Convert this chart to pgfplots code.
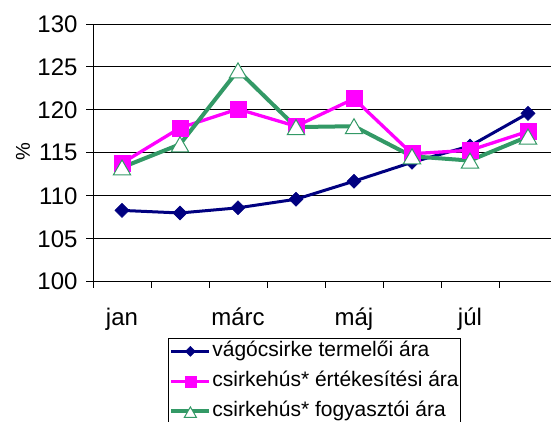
\documentclass[border=0pt]{standalone}
\usepackage{pgfplots}
\pgfplotsset{compat=1.18}
\usepackage{fontspec}
\setmainfont{Liberation Sans}
\definecolor{cnavy}{RGB}{0,0,128}
\definecolor{cmag}{RGB}{255,0,255}
\definecolor{cgreen}{RGB}{51,153,102}
\begin{document}
\begin{tikzpicture}[x=1pt,y=1pt]
\begin{axis}[
  at={(93pt,140.3pt)}, anchor=south west,
  scale only axis, width=464pt, height=257.7pt,
  xmin=0.5, xmax=8.5, ymin=100, ymax=130,
  ytick={100,105,...,130},
  xtick={1,3,5,7}, xticklabels={jan,márc,máj,júl},
  minor xtick={0.5,1.5,...,8.5},
  axis x line*=bottom, axis y line*=left,
  axis line style={black, line width=0.9pt},
  tick align=outside,
  major tick length=7pt, minor tick length=6pt,
  major x tick style={draw=none},
  minor x tick style={black, line width=0.9pt},
  major y tick style={black, line width=0.9pt},
  ymajorgrids, major grid style={black, line width=0.9pt},
  ticklabel style={font=\fontsize{24}{28}\selectfont},
  xticklabel style={yshift=-16pt},
  yticklabel style={xshift=-5pt},
  /pgf/number format/assume math mode=true,
  ylabel={\%},
  ylabel style={font=\fontsize{20}{24}\selectfont, at={(axis description cs:-0.151,0.503)}, anchor=center},
  legend style={at={(axis description cs:0.1616,-0.2185)}, anchor=north west, draw=black, line width=0.8pt,
    font=\fontsize{21}{25}\selectfont, inner xsep=1pt, inner ysep=2pt, row sep=8pt,
    nodes={inner sep=1pt, text height=15pt, text depth=5pt}},
  legend cell align=left,
  legend image code/.code={\draw[mark repeat=2,mark phase=2,#1, every mark/.append style={scale=0.7}] plot coordinates {(0pt,0pt) (19pt,0pt) (38pt,0pt)};},
]
\addplot[cnavy, line width=3pt, mark=square*, mark size=5pt, mark options={rotate=45, solid, line width=0.5pt}]
  coordinates {(1,108.3)(2,108.0)(3,108.6)(4,109.6)(5,111.7)(6,113.9)(7,115.8)(8,119.6)};
\addlegendentry{vágócsirke termelői ára}
\addplot[cmag, line width=3.3pt, mark=square*, mark size=8pt, mark options={solid, line width=0.5pt}]
  coordinates {(1,113.8)(2,117.9)(3,120.1)(4,118.1)(5,121.3)(6,114.9)(7,115.3)(8,117.5)};
\addlegendentry{csirkehús* értékesítési ára}
\addplot[cgreen, line width=4pt, mark=triangle*, mark size=10pt, mark options={solid, fill=white, draw=cgreen, line width=1pt, yshift=-2.5pt}]
  coordinates {(1,113.3)(2,116.0)(3,124.6)(4,118.0)(5,118.1)(6,114.6)(7,114.1)(8,116.9)};
\addlegendentry{csirkehús* fogyasztói ára}
\end{axis}
\pgfresetboundingbox
\useasboundingbox (0,0) rectangle (551,422);
\end{tikzpicture}
\end{document}
